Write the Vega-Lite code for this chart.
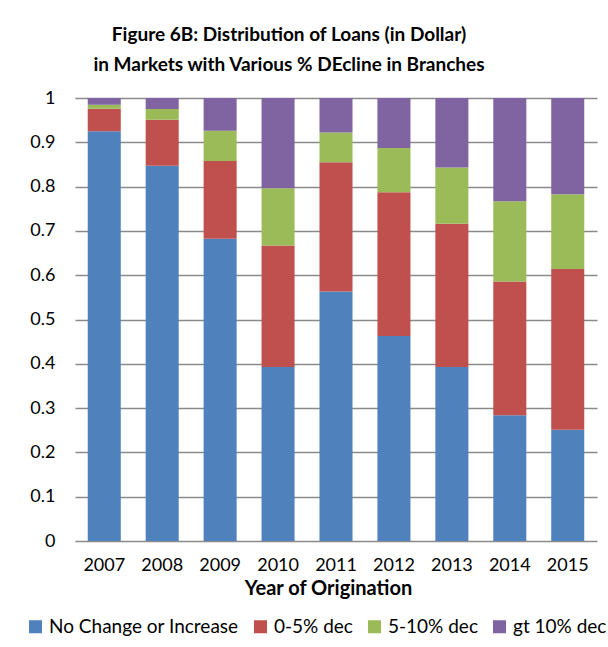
{
  "$schema": "https://vega.github.io/schema/vega-lite/v6.json",
  "width": 522,
  "height": 443,
  "autosize": "none",
  "padding": {"left": 75, "top": 98, "right": 11, "bottom": 106},
  "background": "white",
  "title": {
    "text": ["Figure 6B: Distribution of Loans (in Dollar)", "in Markets with Various % DEcline in Branches"],
    "anchor": "middle",
    "frame": "group",
    "dx": -47,
    "fontSize": 19,
    "font": "Lato",
    "fontWeight": "bold",
    "color": "#000000",
    "lineHeight": 30,
    "offset": 14
  },
  "data": {
    "values": [
      {"year": "2007", "cat": "No Change or Increase", "o": 1, "v": 0.925},
      {"year": "2007", "cat": "0-5% dec", "o": 2, "v": 0.051},
      {"year": "2007", "cat": "5-10% dec", "o": 3, "v": 0.009},
      {"year": "2007", "cat": "gt 10% dec", "o": 4, "v": 0.015},
      {"year": "2008", "cat": "No Change or Increase", "o": 1, "v": 0.847},
      {"year": "2008", "cat": "0-5% dec", "o": 2, "v": 0.104},
      {"year": "2008", "cat": "5-10% dec", "o": 3, "v": 0.024},
      {"year": "2008", "cat": "gt 10% dec", "o": 4, "v": 0.025},
      {"year": "2009", "cat": "No Change or Increase", "o": 1, "v": 0.682},
      {"year": "2009", "cat": "0-5% dec", "o": 2, "v": 0.176},
      {"year": "2009", "cat": "5-10% dec", "o": 3, "v": 0.068},
      {"year": "2009", "cat": "gt 10% dec", "o": 4, "v": 0.074},
      {"year": "2010", "cat": "No Change or Increase", "o": 1, "v": 0.393},
      {"year": "2010", "cat": "0-5% dec", "o": 2, "v": 0.274},
      {"year": "2010", "cat": "5-10% dec", "o": 3, "v": 0.129},
      {"year": "2010", "cat": "gt 10% dec", "o": 4, "v": 0.204},
      {"year": "2011", "cat": "No Change or Increase", "o": 1, "v": 0.563},
      {"year": "2011", "cat": "0-5% dec", "o": 2, "v": 0.292},
      {"year": "2011", "cat": "5-10% dec", "o": 3, "v": 0.067},
      {"year": "2011", "cat": "gt 10% dec", "o": 4, "v": 0.078},
      {"year": "2012", "cat": "No Change or Increase", "o": 1, "v": 0.463},
      {"year": "2012", "cat": "0-5% dec", "o": 2, "v": 0.324},
      {"year": "2012", "cat": "5-10% dec", "o": 3, "v": 0.100},
      {"year": "2012", "cat": "gt 10% dec", "o": 4, "v": 0.113},
      {"year": "2013", "cat": "No Change or Increase", "o": 1, "v": 0.393},
      {"year": "2013", "cat": "0-5% dec", "o": 2, "v": 0.323},
      {"year": "2013", "cat": "5-10% dec", "o": 3, "v": 0.127},
      {"year": "2013", "cat": "gt 10% dec", "o": 4, "v": 0.157},
      {"year": "2014", "cat": "No Change or Increase", "o": 1, "v": 0.284},
      {"year": "2014", "cat": "0-5% dec", "o": 2, "v": 0.302},
      {"year": "2014", "cat": "5-10% dec", "o": 3, "v": 0.181},
      {"year": "2014", "cat": "gt 10% dec", "o": 4, "v": 0.233},
      {"year": "2015", "cat": "No Change or Increase", "o": 1, "v": 0.251},
      {"year": "2015", "cat": "0-5% dec", "o": 2, "v": 0.363},
      {"year": "2015", "cat": "5-10% dec", "o": 3, "v": 0.169},
      {"year": "2015", "cat": "gt 10% dec", "o": 4, "v": 0.217}
    ]
  },
  "mark": {"type": "bar"},
  "encoding": {
    "x": {
      "field": "year",
      "type": "ordinal",
      "scale": {"paddingInner": 0.43, "paddingOuter": 0.22},
      "axis": {
        "title": "Year of Origination",
        "titleFont": "Lato",
        "titleFontSize": 20,
        "titleFontWeight": "bold",
        "titleColor": "#000000",
        "titlePadding": 4,
        "titleX": 253,
        "titleAlign": "center",
        "titleAnchor": null,
        "labelFont": "Lato",
        "labelFontSize": 18,
        "labelColor": "#000000",
        "labelAngle": 0,
        "labelPadding": 15,
        "ticks": false,
        "domain": false
      }
    },
    "y": {
      "field": "v",
      "type": "quantitative",
      "stack": "zero",
      "scale": {"domain": [0, 1], "nice": false},
      "axis": {
        "title": null,
        "values": [0, 0.1, 0.2, 0.3, 0.4, 0.5, 0.6, 0.7, 0.8, 0.9, 1],
        "format": "~g",
        "labelFont": "Lato",
        "labelFontSize": 18,
        "labelColor": "#000000",
        "labelPadding": 20,
        "ticks": false,
        "domain": false,
        "grid": true,
        "gridColor": "#8a8a8a",
        "gridWidth": 1.3,
        "gridOpacity": 1
      }
    },
    "color": {
      "field": "cat",
      "type": "nominal",
      "scale": {
        "domain": ["No Change or Increase", "0-5% dec", "5-10% dec", "gt 10% dec"],
        "range": ["#4F81BD", "#C0504D", "#9BBB59", "#8064A2"]
      },
      "legend": {
        "title": null,
        "orient": "none",
        "direction": "horizontal",
        "legendX": -49,
        "legendY": 519,
        "symbolType": "square",
        "symbolSize": 169,
        "symbolStrokeWidth": 0,
        "labelFont": "Lato",
        "labelFontSize": 19,
        "labelColor": "#000000",
        "labelOffset": 4,
        "columnPadding": 12,
        "labelLimit": 300
      }
    },
    "order": {"field": "o", "type": "quantitative"}
  },
  "config": {
    "view": {"stroke": null},
    "axis": {"gridDash": []}
  }
}
